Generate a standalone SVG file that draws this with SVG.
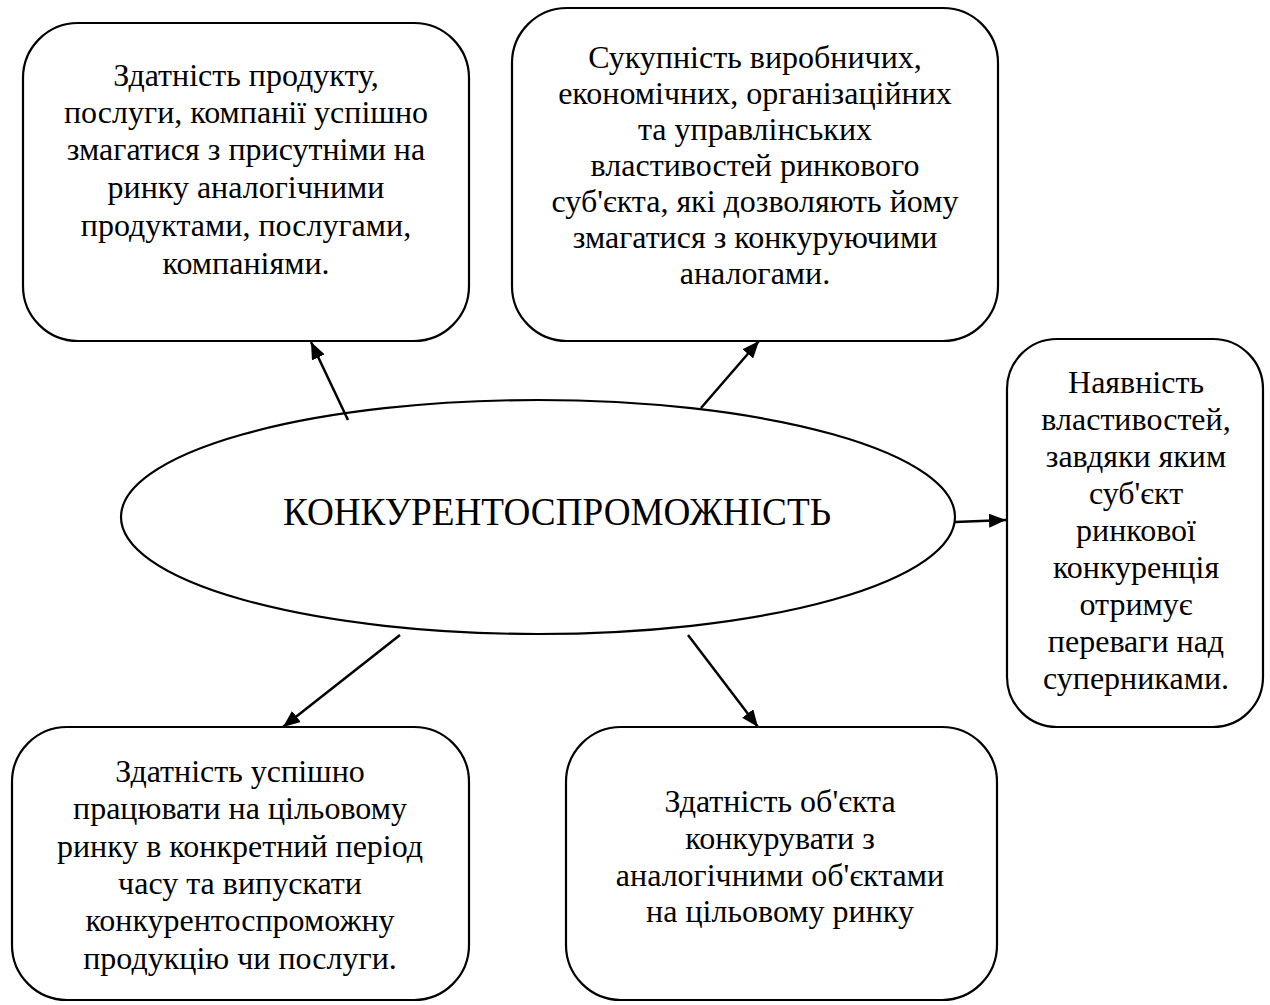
<svg xmlns="http://www.w3.org/2000/svg" width="1270" height="1005" viewBox="0 0 1270 1005">
<style>
.box{fill:#fff;stroke:#000;stroke-width:2.2}
.t{font-family:"Liberation Serif","Times New Roman",serif;font-size:32px;fill:#000;text-anchor:middle}
.big{font-family:"Liberation Serif","Times New Roman",serif;font-size:40px;fill:#000;text-anchor:middle}
.c{stroke:#000;stroke-width:2.5;fill:none;marker-end:url(#ah)}
</style>
<defs>
<marker id="ah" markerUnits="userSpaceOnUse" markerWidth="18" markerHeight="14" refX="17" refY="7" orient="auto">
<path d="M0,0 L17,7 L0,14 z" fill="#000"/>
</marker>
</defs>
<rect width="1270" height="1005" fill="#fff"/>
<g id="node-center">
<ellipse class="box" cx="538" cy="517" rx="417" ry="117"/>
<text class="big" x="557" y="525" textLength="548" lengthAdjust="spacingAndGlyphs">КОНКУРЕНТОСПРОМОЖНІСТЬ</text>
</g>
<g id="node-1">
<rect class="box" x="23" y="23" width="446" height="318" rx="55" ry="55"/>
<text class="t" x="246" y="86">Здатність продукту,</text>
<text class="t" x="246" y="123">послуги, компанії успішно</text>
<text class="t" x="246" y="160">змагатися з присутніми на</text>
<text class="t" x="246" y="198">ринку аналогічними</text>
<text class="t" x="246" y="236">продуктами, послугами,</text>
<text class="t" x="246" y="274">компаніями.</text>
</g>
<g id="node-2">
<rect class="box" x="512" y="8" width="486" height="333" rx="55" ry="55"/>
<text class="t" x="755" y="68">Сукупність виробничих,</text>
<text class="t" x="755" y="104">економічних, організаційних</text>
<text class="t" x="755" y="140">та управлінських</text>
<text class="t" x="755" y="176">властивостей ринкового</text>
<text class="t" x="755" y="212">суб'єкта, які дозволяють йому</text>
<text class="t" x="755" y="248">змагатися з конкуруючими</text>
<text class="t" x="755" y="284">аналогами.</text>
</g>
<g id="node-3">
<rect class="box" x="1007" y="339" width="256" height="388" rx="50" ry="50"/>
<text class="t" x="1136" y="393">Наявність</text>
<text class="t" x="1136" y="430">властивостей,</text>
<text class="t" x="1136" y="467">завдяки яким</text>
<text class="t" x="1136" y="504">суб'єкт</text>
<text class="t" x="1136" y="541">ринкової</text>
<text class="t" x="1136" y="578">конкуренція</text>
<text class="t" x="1136" y="615">отримує</text>
<text class="t" x="1136" y="652">переваги над</text>
<text class="t" x="1136" y="689">суперниками.</text>
</g>
<g id="node-4">
<rect class="box" x="12" y="727" width="457" height="273" rx="55" ry="55"/>
<text class="t" x="240" y="782">Здатність успішно</text>
<text class="t" x="240" y="819">працювати на цільовому</text>
<text class="t" x="240" y="857">ринку в конкретний період</text>
<text class="t" x="240" y="894">часу та випускати</text>
<text class="t" x="240" y="931">конкурентоспроможну</text>
<text class="t" x="240" y="969">продукцію чи послуги.</text>
</g>
<g id="node-5">
<rect class="box" x="566" y="727" width="431" height="273" rx="55" ry="55"/>
<text class="t" x="780" y="812">Здатність об'єкта</text>
<text class="t" x="780" y="849">конкурувати з</text>
<text class="t" x="780" y="886">аналогічними об'єктами</text>
<text class="t" x="780" y="922">на цільовому ринку</text>
</g>
<g id="connectors">
<line class="c" x1="348" y1="420" x2="311" y2="342"/>
<line class="c" x1="701" y1="408" x2="759" y2="341"/>
<line class="c" x1="955" y1="522" x2="1006" y2="520"/>
<line class="c" x1="400" y1="635" x2="283" y2="727"/>
<line class="c" x1="688" y1="635" x2="758" y2="727"/>
</g>
</svg>
